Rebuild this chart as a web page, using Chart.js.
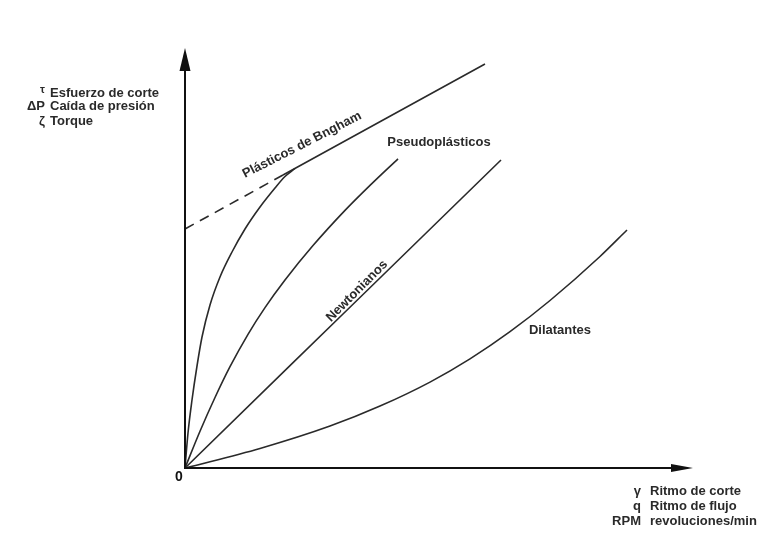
<!DOCTYPE html>
<html>
<head>
<meta charset="utf-8">
<script src="https://cdn.jsdelivr.net/npm/chart.js@4/dist/chart.umd.min.js"></script>
<style>
  html, body { margin: 0; padding: 0; background: #ffffff; }
  canvas { display: block; }
</style>
</head>
<body>
<canvas id="c" width="757" height="535"></canvas>
<script>
// ---- Data (arbitrary units: shear rate vs. shear stress) ----
const binghamCurveX = [0, 3, 7, 12, 17, 25, 35, 47, 60, 75, 90, 100, 110];
const binghamCurveY = [0, 35, 68, 102, 131, 163, 191, 216, 239, 261, 280, 291.5, 299.5];

const binghamDashedX = [0, 98];
const binghamDashedY = [239, 293];

const binghamLineX = [98, 300];
const binghamLineY = [293, 404];

const pseudoX = [0, 15, 30, 45, 63, 80, 100, 128, 160, 185, 213];
const pseudoY = [0, 36.8, 70.5, 101.3, 133.7, 160.4, 188, 222.4, 257.6, 282.6, 309.2];

const newtonX = [0, 158, 316];
const newtonY = [0, 154, 308];

const dilatX = [0, 75, 145, 195, 245, 285, 325, 365, 415, 442];
const dilatY = [0, 19.5, 41.9, 61.9, 85.9, 109.1, 136.3, 167.5, 211.5, 238];

const xAxisMax = 508;
const yAxisMax = 420;

const curveLabels = ["Plásticos de Bngham", "Pseudoplásticos", "Newtonianos", "Dilatantes"];
const yLegendSymbols = ["τ", "ΔP", "ζ"];
const yLegendTexts = ["Esfuerzo de corte", "Caída de presión", "Torque"];
const xLegendSymbols = ["γ", "q", "RPM"];
const xLegendTexts = ["Ritmo de corte", "Ritmo de flujo", "revoluciones/min"];
const originLabel = "0";

function pts(xs, ys) { return xs.map((x, i) => ({ x: x, y: ys[i] })); }

const INK = '#2a2a2a';
const lineBase = {
  showLine: true, pointRadius: 0, borderColor: INK, borderWidth: 1.6,
  fill: false, tension: 0.4, cubicInterpolationMode: 'monotone'
};

const FONT = '"Liberation Sans", Arial, sans-serif';

const drawPlugin = {
  id: 'diagram',
  afterDatasetsDraw(chart) {
    const ctx = chart.ctx;
    const xs = chart.scales.x, ys = chart.scales.y;
    const ox = xs.getPixelForValue(0), oy = ys.getPixelForValue(0);
    const top = ys.getPixelForValue(yAxisMax);
    const right = xs.getPixelForValue(xAxisMax);
    ctx.save();
    // axes
    ctx.strokeStyle = '#111';
    ctx.fillStyle = '#111';
    ctx.lineWidth = 2;
    ctx.beginPath();
    ctx.moveTo(ox, oy + 1); ctx.lineTo(ox, top + 20);
    ctx.moveTo(ox - 1, oy); ctx.lineTo(right - 20, oy);
    ctx.stroke();
    // y arrow
    ctx.beginPath();
    ctx.moveTo(ox, top); ctx.lineTo(ox - 5.5, top + 23); ctx.lineTo(ox + 5.5, top + 23); ctx.closePath();
    ctx.fill();
    // x arrow
    ctx.beginPath();
    ctx.moveTo(right, oy); ctx.lineTo(right - 22, oy - 4); ctx.lineTo(right - 22, oy + 4); ctx.closePath();
    ctx.fill();

    // curve labels
    ctx.fillStyle = INK;
    ctx.font = 'bold 13px ' + FONT;
    ctx.textAlign = 'center';
    ctx.textBaseline = 'middle';
    const lab = (t, vx, vy, ang) => {
      ctx.save();
      ctx.translate(xs.getPixelForValue(vx), ys.getPixelForValue(vy));
      ctx.rotate(ang * Math.PI / 180);
      ctx.fillText(t, 0, 0);
      ctx.restore();
    };
    lab(curveLabels[0], 117, 323, -27);
    lab(curveLabels[1], 254, 326, 0);
    lab(curveLabels[2], 172, 177, -45);
    lab(curveLabels[3], 375, 138, 0);

    // origin label
    ctx.font = 'bold 14px ' + FONT;
    ctx.fillStyle = '#111';
    ctx.fillText(originLabel, ox - 6, oy + 9);

    // y legend
    ctx.fillStyle = INK;
    const yl = [93, 106, 121];
    for (let i = 0; i < 3; i++) {
      ctx.textAlign = 'right';
      ctx.font = (i === 0 ? 'bold 11px ' : 'bold 13px ') + FONT;
      ctx.fillText(yLegendSymbols[i], 45, yl[i] - (i === 0 ? 3 : 0));
      ctx.textAlign = 'left';
      ctx.font = 'bold 13px ' + FONT;
      ctx.fillText(yLegendTexts[i], 50, yl[i]);
    }
    // x legend
    const xl = [491, 506, 521];
    for (let i = 0; i < 3; i++) {
      ctx.textAlign = 'right';
      ctx.font = 'bold 13px ' + FONT;
      ctx.fillText(xLegendSymbols[i], 641, xl[i]);
      ctx.textAlign = 'left';
      ctx.fillText(xLegendTexts[i], 650, xl[i]);
    }
    ctx.restore();
  }
};

new Chart(document.getElementById('c'), {
  type: 'scatter',
  data: {
    datasets: [
      Object.assign({}, lineBase, { data: pts(binghamCurveX, binghamCurveY) }),
      Object.assign({}, lineBase, { data: pts(binghamDashedX, binghamDashedY), borderDash: [10, 7], tension: 0 }),
      Object.assign({}, lineBase, { data: pts(binghamLineX, binghamLineY), tension: 0 }),
      Object.assign({}, lineBase, { data: pts(pseudoX, pseudoY) }),
      Object.assign({}, lineBase, { data: pts(newtonX, newtonY), tension: 0 }),
      Object.assign({}, lineBase, { data: pts(dilatX, dilatY) })
    ]
  },
  options: {
    responsive: false,
    animation: false,
    layout: { padding: { left: 185, right: 64, top: 48, bottom: 67 } },
    plugins: { legend: { display: false }, tooltip: { enabled: false } },
    scales: {
      x: { type: 'linear', display: false, min: 0, max: xAxisMax },
      y: { type: 'linear', display: false, min: 0, max: yAxisMax }
    }
  },
  plugins: [drawPlugin]
});
</script>
</body>
</html>
